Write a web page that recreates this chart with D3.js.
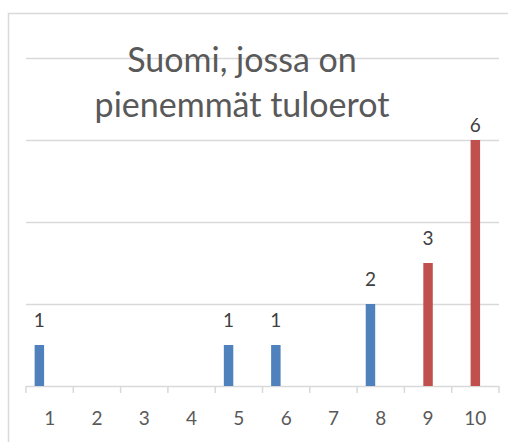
<!DOCTYPE html>
<html>
<head>
<meta charset="utf-8">
<script src="https://cdn.jsdelivr.net/npm/d3@7"></script>
<style>
  body { margin: 0; background: #fff; }
  text { font-family: Lato, "Open Sans", sans-serif; }
</style>
</head>
<body>
<div id="chart"></div>
<script>
(function(){
var width = 508,
    height = 442

// data
var categories = ['1', '2', '3', '4', '5', '6', '7', '8', '9', '10']
var blueValues = [1, 0, 0, 0, 1, 1, 0, 2, 0, 0]
var redValues = [0, 0, 0, 0, 0, 0, 0, 0, 3, 6]
var titleLines = ['Suomi, jossa on', 'pienemmät tuloerot']
var yTicks = [0, 2, 4, 6, 8]

var margin = { top: 58, left: 26, right: 9, bottom: 56 }

var svg = d3.select('#chart')
  .append('svg')
  .attr('width', width)
  .attr('height', height)

// chart frame (only left and top edges are visible)
svg.append('path')
  .attr('d', 'M8.5,' + height + 'V13.5H' + width)
  .attr('fill', 'none')
  .attr('stroke', '#d9d9d9')
  .attr('stroke-width', 1.5)

var g = svg.append('g')
  .attr('transform', 'translate(' + margin.left + ',' + margin.top + ')')

var w = width - margin.left - margin.right,
    h = height - margin.top - margin.bottom

var xScale = d3.scaleBand()
  .domain(categories)
  .range([0, w])

// three slots per category, blue sits in the first, red in the middle
var xSub = d3.scaleBand()
  .domain(['blue', 'red', 'empty'])
  .range([-xScale.bandwidth() * 0.335, xScale.bandwidth() * 0.335])
  .padding(0.08)

var yScale = d3.scaleLinear()
  .domain([0, 8])
  .range([h, 0])

// gridlines
g.selectAll('.grid')
  .data(yTicks.slice(1))
  .enter()
  .append('line')
  .attr('x1', 0)
  .attr('x2', w)
  .attr('y1', d => yScale(d) + 0.5)
  .attr('y2', d => yScale(d) + 0.5)
  .attr('stroke', '#d9d9d9')
  .attr('stroke-width', 1.5)

// x axis
var xAxis = g.append('g')
  .attr('transform', 'translate(0,' + h + ')')

xAxis.append('line')
  .attr('x1', 0).attr('x2', w)
  .attr('y1', 0.5).attr('y2', 0.5)
  .attr('stroke', '#d9d9d9')
  .attr('stroke-width', 1.5)

xAxis.selectAll('.tick-mark')
  .data(d3.range(categories.length + 1))
  .enter()
  .append('line')
  .attr('x1', d => d * xScale.step())
  .attr('x2', d => d * xScale.step())
  .attr('y1', 0)
  .attr('y2', 7)
  .attr('stroke', '#d9d9d9')
  .attr('stroke-width', 1.5)

xAxis.selectAll('.x-label')
  .data(categories)
  .enter()
  .append('text')
  .attr('x', d => xScale(d) + xScale.bandwidth() / 2)
  .attr('y', 39)
  .attr('text-anchor', 'middle')
  .attr('fill', '#595959')
  .style('font-size', '19px')
  .text(d => d)

// bars
var bars = []
categories.forEach(function(c, i) {
  if (blueValues[i] > 0) bars.push({ cat: c, series: 'blue', value: blueValues[i] })
  if (redValues[i] > 0) bars.push({ cat: c, series: 'red', value: redValues[i] })
})

var color = { blue: '#4f81bd', red: '#c0504d' }
var center = c => xScale(c) + xScale.bandwidth() / 2

g.selectAll('.bar')
  .data(bars)
  .enter()
  .append('rect')
  .attr('x', d => center(d.cat) + xSub(d.series))
  .attr('width', xSub.bandwidth())
  .attr('y', d => yScale(d.value))
  .attr('height', d => h - yScale(d.value))
  .attr('fill', d => color[d.series])

// data labels
g.selectAll('.bar-label')
  .data(bars)
  .enter()
  .append('text')
  .attr('x', d => center(d.cat) + xSub(d.series) + xSub.bandwidth() / 2)
  .attr('y', d => Math.max(yScale(d.value) - 18, 74))
  .attr('text-anchor', 'middle')
  .attr('fill', '#404040')
  .style('font-size', '19px')
  .text(d => d.value)

// title
svg.selectAll('.title')
  .data(titleLines)
  .enter()
  .append('text')
  .attr('x', 242)
  .attr('y', (d, i) => 72 + i * 45)
  .attr('text-anchor', 'middle')
  .attr('fill', '#595959')
  .style('font-size', '34px')
  .text(d => d)

})()
</script>
</body>
</html>
